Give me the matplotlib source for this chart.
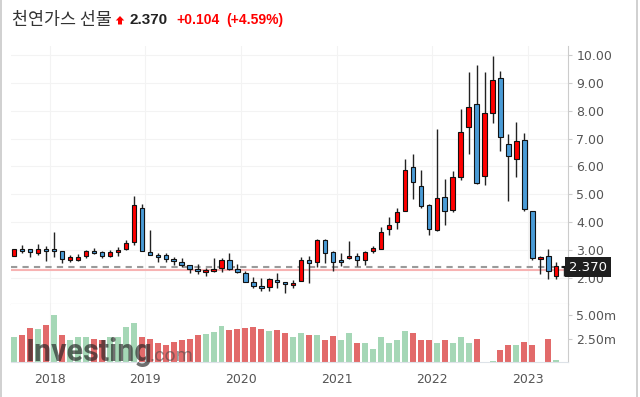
import matplotlib
matplotlib.use("Agg")
import matplotlib.pyplot as plt
import numpy as np
import pandas as pd
from matplotlib.lines import Line2D
from matplotlib.patches import FancyArrow

# monthly candles, Aug 2017 .. May 2023
months = pd.date_range("2017-08-01", periods=70, freq="MS")
opens = [2.79, 3.02, 3.02, 2.90, 3.02, 3.02, 2.95, 2.65, 2.65, 2.77,
         2.95, 2.91, 2.77, 2.91, 3.02, 3.27, 4.49, 2.91, 2.80, 2.80,
         2.66, 2.55, 2.44, 2.30, 2.19, 2.23, 2.34, 2.62, 2.30, 2.16,
         1.83, 1.69, 1.65, 1.90, 1.83, 1.72, 1.87, 2.62, 2.55, 3.34,
         2.91, 2.62, 2.70, 2.77, 2.62, 2.95, 3.02, 3.74, 3.99, 4.39,
         5.97, 5.29, 4.60, 3.70, 4.89, 4.42, 5.61, 7.41, 8.24, 5.65,
         7.91, 9.17, 6.80, 6.26, 6.94, 4.39, 2.66, 2.77, 2.05, 2.41]
highs = [3.04, 3.16, 3.02, 3.20, 3.12, 3.63, 2.95, 2.80, 2.84, 3.00,
         3.06, 2.95, 2.98, 3.09, 3.35, 4.94, 4.65, 3.70, 2.88, 2.88,
         2.73, 2.70, 2.44, 2.48, 2.34, 2.70, 2.70, 2.88, 2.48, 2.23,
         2.01, 1.98, 1.98, 2.16, 1.83, 1.90, 2.73, 2.77, 3.38, 3.38,
         2.95, 2.88, 3.31, 2.88, 2.95, 3.13, 3.81, 4.17, 4.49, 6.26,
         6.44, 5.86, 4.64, 7.34, 5.54, 5.83, 8.06, 9.39, 9.64, 9.39,
         9.96, 9.42, 7.16, 7.59, 7.19, 4.39, 2.77, 3.02, 2.55, 2.41]
lows = [2.76, 2.88, 2.73, 2.80, 2.60, 2.73, 2.52, 2.56, 2.61, 2.70,
        2.85, 2.70, 2.73, 2.76, 3.00, 3.16, 2.95, 2.80, 2.55, 2.55,
        2.44, 2.37, 2.16, 2.12, 2.05, 2.19, 2.19, 2.26, 2.16, 1.83,
        1.62, 1.51, 1.51, 1.62, 1.44, 1.62, 1.87, 1.80, 2.37, 2.52,
        2.23, 2.41, 2.66, 2.41, 2.44, 2.88, 3.02, 3.52, 3.74, 4.39,
        4.82, 4.49, 3.52, 3.67, 3.88, 4.35, 5.50, 6.44, 5.36, 5.32,
        7.55, 6.54, 4.75, 5.61, 4.39, 2.62, 2.12, 1.94, 1.94, 2.05]
closes = [3.02, 2.95, 2.91, 3.02, 2.95, 2.95, 2.66, 2.73, 2.73, 2.95,
          2.88, 2.77, 2.91, 3.00, 3.23, 4.60, 2.95, 2.80, 2.73, 2.66,
          2.59, 2.44, 2.30, 2.23, 2.26, 2.30, 2.62, 2.30, 2.19, 1.83,
          1.69, 1.62, 1.94, 1.83, 1.76, 1.80, 2.62, 2.52, 3.34, 2.88,
          2.55, 2.55, 2.77, 2.62, 2.91, 3.06, 3.63, 3.88, 4.35, 5.86,
          5.43, 4.57, 3.74, 4.85, 4.39, 5.61, 7.23, 8.13, 5.39, 7.91,
          9.10, 7.05, 6.36, 6.90, 4.46, 2.70, 2.73, 2.23, 2.41, 2.37]
# volume in millions and bar colour flag (r / g)
volume = [2.72, 2.93, 3.67, 3.57, 3.99, 5.05, 2.93, 2.40, 2.72, 2.72,
          2.51, 2.40, 2.62, 2.62, 3.78, 4.20, 2.62, 2.51, 2.08, 1.87,
          2.19, 2.30, 2.51, 2.93, 3.04, 3.25, 3.89, 3.46, 3.57, 3.67,
          3.78, 3.57, 3.36, 3.46, 3.14, 2.72, 3.14, 2.93, 2.93, 2.40,
          2.83, 2.30, 3.14, 1.98, 1.98, 1.34, 2.62, 1.98, 2.40, 3.36,
          3.14, 2.40, 2.30, 2.08, 2.30, 1.98, 2.72, 2.08, 2.51, 0.0,
          0.10, 1.24, 1.87, 1.87, 2.19, 1.87, 0.05, 2.51, 0.20, 0.05]
vol_side = list("grrgrgrggg" "rrggggrrrr" "rrrrgggrrr" "rrgrrggrgr"
                "rggrgggggg" "rrrgrgggrg" "grrgrrgrgg")

last_price = 2.370
prev_close = 2.266
price_ticks = [2, 3, 4, 5, 6, 7, 8, 9, 10]
vol_ticks = [2.5, 5.0]

up_col = "#ff0000"
down_col = "#4a9bd6"
vred = "#e26a6a"
vgreen = "#a5d7b6"
txt = "#555555"

x = np.arange(len(months))
year_pos = [i - 0.55 for i, m in enumerate(months) if m.month == 1]
year_lab = [str(m.year) for m in months if m.month == 1]

fig = plt.figure(figsize=(6.4, 3.97), dpi=100)
ax = fig.add_axes([11 / 640, 1 - 304 / 397, 557 / 640, 258 / 397])
axv = fig.add_axes([11 / 640, 1 - 362 / 397, 557 / 640, 58 / 397], sharex=ax)

o = np.array(opens); c = np.array(closes)
h = np.array(highs); l = np.array(lows)
up = c >= o
cols = np.where(up, up_col, down_col)

ax.vlines(x, l, h, color="#222222", lw=1.0, zorder=2)
ax.bar(x, np.abs(c - o), bottom=np.minimum(o, c), width=0.55,
       color=cols, edgecolor="#111111", linewidth=0.8, zorder=3)

ax.axhline(prev_close, color="#f7b3b3", lw=1.5, zorder=1)
ax.axhline(last_price, color="#9a9a9a", lw=1.5, ls=(0, (3, 2.5)), zorder=1)

ax.set_ylim(1.05, 10.33)
ax.set_xlim(-0.41, 69.47)
ax.set_yticks(price_ticks)
ax.set_yticklabels([f"{t:.2f}" for t in price_ticks])
ax.yaxis.tick_right()
ax.tick_params(axis="y", length=3, color="#cccccc", labelsize=9,
               labelcolor=txt, pad=3)
ax.tick_params(axis="x", length=0, labelbottom=False)
ax.set_xticks(year_pos)
ax.grid(True, color="#f3f3f3", lw=0.8)
ax.set_axisbelow(True)
for s in ["left", "top"]:
    ax.spines[s].set_visible(False)
ax.spines["right"].set_color("#cccccc")
ax.spines["bottom"].set_color("#c8c8c8")

ax.text(1.002, last_price, f"{last_price:.3f}", transform=ax.get_yaxis_transform(),
        ha="left", va="center", color="white", fontsize=9.5,
        bbox=dict(boxstyle="square,pad=0.28", fc="#1e1e1e", ec="none"), zorder=10,
        clip_on=False)

vcols = [vred if s == "r" else vgreen for s in vol_side]
axv.bar(x, volume, width=0.75, color=vcols, zorder=2)
axv.set_ylim(0, 6.2)
axv.set_yticks(vol_ticks)
axv.set_yticklabels([f"{t:.2f}m" for t in vol_ticks])
axv.yaxis.tick_right()
axv.tick_params(axis="y", length=3, color="#cccccc", labelsize=9,
                labelcolor=txt, pad=3)
axv.set_xticks(year_pos)
axv.set_xticklabels(year_lab)
axv.tick_params(axis="x", length=0, labelsize=9, labelcolor=txt, pad=8)
axv.grid(True, axis="x", color="#f0f0f0", lw=0.8)
axv.set_axisbelow(True)
for s in ["left", "top"]:
    axv.spines[s].set_visible(False)
axv.spines["right"].set_color("#cccccc")
axv.spines["bottom"].set_color("#dde2e8")

# watermark
fig.text(26 / 640, 1 - 361 / 397, "Investing", family=["Roboto", "DejaVu Sans"],
         fontweight="bold", fontsize=22, color="#222222", alpha=0.65, zorder=20)
fig.text(150 / 640, 1 - 361 / 397, ".com", family=["Roboto", "DejaVu Sans"],
         fontsize=14, color="#444444", alpha=0.55, zorder=20)

# title
fig.text(12 / 640, 1 - 20 / 397, "천연가스 선물", family=["Noto Sans CJK KR", "DejaVu Sans"],
         fontsize=12.5, color="#333333", va="center")
fig.add_artist(FancyArrow(1.20, 3.725, 0, 0.085, width=0.04, head_width=0.085,
                          head_length=0.045, length_includes_head=True,
                          color="#ff0000", lw=0, transform=fig.dpi_scale_trans))
fig.text(130 / 640, 1 - 20 / 397, f"{last_price:.3f}", family=["Liberation Sans"],
         fontsize=11, fontweight="bold", color="#222222", va="center")
fig.text(176 / 640, 1 - 20 / 397, "+0.104", family=["Liberation Sans"],
         fontsize=10, fontweight="bold", color="#ff0000", va="center")
fig.text(226 / 640, 1 - 20 / 397, "(+4.59%)", family=["Liberation Sans"],
         fontsize=10, fontweight="bold", color="#ff0000", va="center")

# frame lines of the widget
fig.add_artist(Line2D([1 / 640, 1 / 640], [0, 1], color="#c8c8c8", lw=1.2))
fig.add_artist(Line2D([637 / 640, 637 / 640], [0, 1], color="#c8c8c8", lw=1.2))

fig.savefig("out.png", dpi=100)
